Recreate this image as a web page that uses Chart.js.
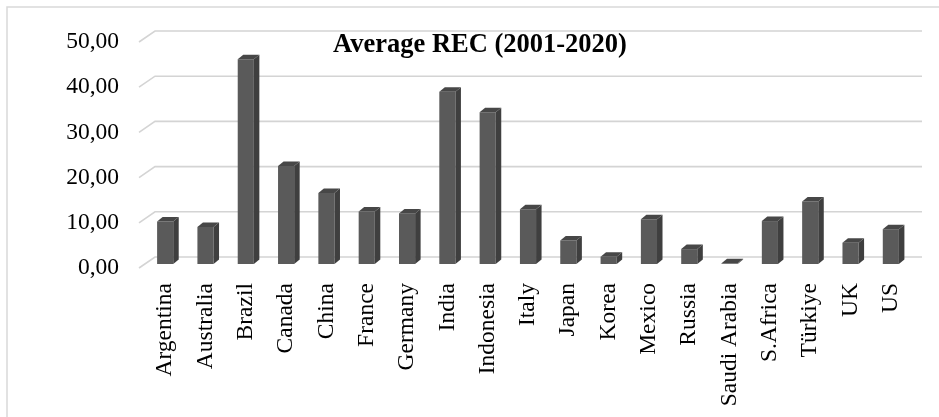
<!DOCTYPE html>
<html>
<head>
<meta charset="utf-8">
<script src="https://cdn.jsdelivr.net/npm/chart.js@4.4.1/dist/chart.umd.min.js"></script>
<style>
    html, body { margin: 0; padding: 0; background: #fff; }
    #wrap { width: 939px; height: 417px; position: relative; }
</style>
</head>
<body>
<div id="wrap"><canvas id="barcanvas"></canvas></div>
<script>
var countries = ['Argentina', 'Australia', 'Brazil', 'Canada', 'China', 'France', 'Germany', 'India', 'Indonesia',
    'Italy', 'Japan', 'Korea', 'Mexico', 'Russia', 'Saudi Arabia', 'S.Africa', 'Türkiye', 'UK', 'US'];
var recValues = [9.4, 8.2, 45.3, 21.7, 15.7, 11.6, 11.2, 38.1, 33.6, 12.1, 5.2, 1.6, 9.9, 3.3, 0.15, 9.5, 13.8, 4.7, 7.7];
var yTicks = [0, 10, 20, 30, 40, 50];
var chartTitle = 'Average REC (2001-2020)';

var serif = "'Liberation Serif', 'Times New Roman', serif";

// depth of the bars and of the back wall (Excel style 3D column)
var barDepth = { dx: 5.5, dy: 4.5 };
var wall = { frontDx: -6, frontDy: 4, backDx: 10, backDy: -7 };

var frameAndGrid = {
    id: 'frameAndGrid',
    beforeDatasetsDraw: function (chart) {
        var ctx = chart.ctx;
        var area = chart.chartArea;
        var y = chart.scales.y;
        ctx.save();
        // outer frame
        ctx.strokeStyle = '#d9d9d9';
        ctx.lineWidth = 1.5;
        ctx.strokeRect(7, 7, 1200, 1200);
        // 3D grid lines
        ctx.strokeStyle = '#d4d4d4';
        ctx.lineWidth = 1.6;
        yTicks.forEach(function (t) {
            var py = y.getPixelForValue(t);
            ctx.beginPath();
            ctx.moveTo(area.left + wall.frontDx, py + wall.frontDy);
            ctx.lineTo(area.left + wall.backDx, py + wall.backDy);
            ctx.lineTo(area.right + wall.backDx + 1, py + wall.backDy);
            ctx.stroke();
        });
        // title sits inside the plot
        ctx.fillStyle = '#000';
        ctx.font = 'bold 26.5px ' + serif;
        ctx.textAlign = 'center';
        ctx.textBaseline = 'alphabetic';
        ctx.fillText(chartTitle, 480, 52);
        ctx.restore();
    },
    afterDatasetsDraw: function (chart) {
        var ctx = chart.ctx;
        var meta = chart.getDatasetMeta(0);
        ctx.save();
        meta.data.forEach(function (bar) {
            var half = bar.width / 2;
            var l = bar.x - half, r = bar.x + half;
            var top = bar.y, base = bar.base;
            // side face
            ctx.fillStyle = '#3f3f3f';
            ctx.beginPath();
            ctx.moveTo(r, top);
            ctx.lineTo(r + barDepth.dx, top - barDepth.dy);
            ctx.lineTo(r + barDepth.dx, base - barDepth.dy);
            ctx.lineTo(r, base);
            ctx.closePath();
            ctx.fill();
            // top face
            ctx.fillStyle = '#474747';
            ctx.beginPath();
            ctx.moveTo(l, top);
            ctx.lineTo(l + barDepth.dx, top - barDepth.dy);
            ctx.lineTo(r + barDepth.dx, top - barDepth.dy);
            ctx.lineTo(r, top);
            ctx.closePath();
            ctx.fill();
        });
        ctx.restore();
    }
};

var barChartData = {
    labels: countries,
    datasets: [{
        label: chartTitle,
        data: recValues,
        backgroundColor: '#5a5a5a',
        borderWidth: 0,
        categoryPercentage: 1,
        barPercentage: 0.4
    }]
};

var options = {
    responsive: true,
    maintainAspectRatio: false,
    animation: false,
    layout: {
        padding: { left: 0, right: 28, top: 38, bottom: 0 }
    },
    plugins: {
        legend: { display: false },
        title: { display: false },
        tooltip: { enabled: false }
    },
    scales: {
        x: {
            grid: { display: false, drawTicks: false },
            border: { display: false },
            afterFit: function (axis) {
                axis.height = 153;
                axis.paddingLeft = 0;
                axis.paddingRight = 0;
            },
            ticks: {
                color: '#000',
                font: { family: serif, size: 23.5 },
                minRotation: 90,
                maxRotation: 90,
                autoSkip: false,
                padding: 19
            }
        },
        y: {
            min: 0,
            max: 50,
            grid: { display: false, drawTicks: false },
            border: { display: false },
            afterBuildTicks: function (axis) {
                axis.ticks = yTicks.map(function (v) { return { value: v }; });
            },
            afterFit: function (axis) {
                axis.width = 145;
                axis.paddingTop = 0;
                axis.paddingBottom = 0;
            },
            ticks: {
                color: '#000',
                font: { family: serif, size: 23.5 },
                padding: 26,
                labelOffset: 4,
                callback: function (value) {
                    return Number(value).toFixed(2).replace('.', ',');
                }
            }
        }
    }
};

var ctx1 = document.getElementById('barcanvas').getContext('2d');
window.myBar = new Chart(ctx1, {
    type: 'bar',
    data: barChartData,
    options: options,
    plugins: [frameAndGrid]
});
</script>
</body>
</html>
